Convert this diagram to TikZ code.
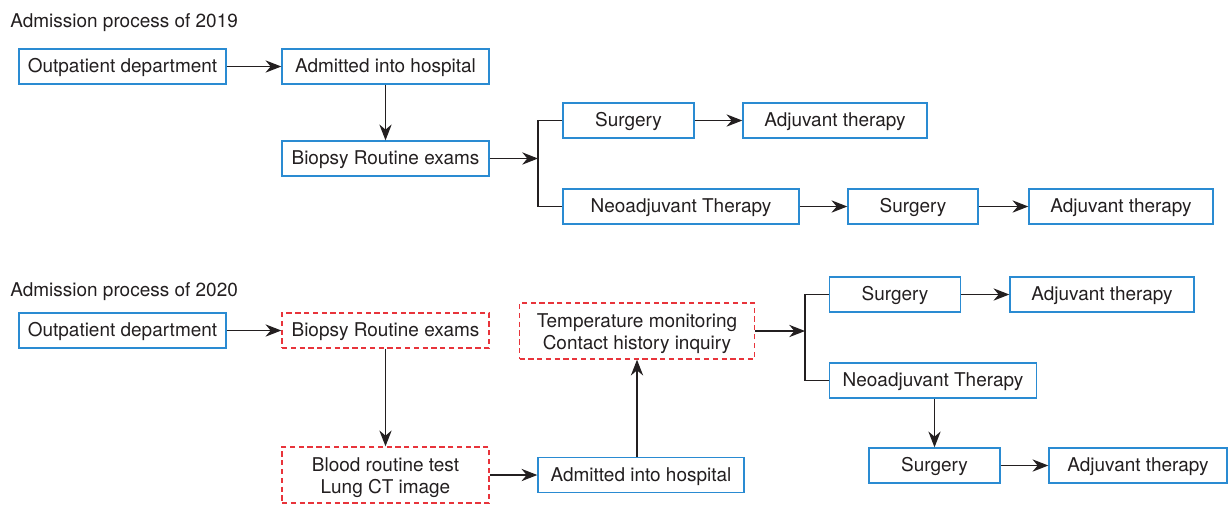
\documentclass[tikz,border=0pt]{standalone}
\usepackage{fontspec}
\setmainfont{TeX Gyre Heros}
\usetikzlibrary{arrows.meta, positioning}
\definecolor{ink}{HTML}{231F20}
\definecolor{boxblue}{HTML}{2A8BD2}
\definecolor{boxred}{HTML}{E8343B}

\begin{document}
\begin{tikzpicture}[
    x=0.02cm, y=-0.02cm,
    every node/.style={font=\fontsize{10.8pt}{12.6pt}\selectfont, text=ink},
    box/.style={draw=boxblue, line width=0.8pt, minimum height=0.7cm, inner sep=0pt,
        text height=0.9em, text depth=0.2em},
    redbox/.style={box, draw=boxred, dash pattern=on 3pt off 2pt},
    tall/.style={minimum height=1.12cm, align=center, text height=, text depth=},
    title/.style={anchor=base west, inner sep=0pt},
    flow/.style={draw=ink, line width=0.7pt, -{Stealth[length=9pt, width=7pt]}},
    link/.style={draw=ink, line width=0.7pt},
]
\useasboundingbox (0,0) rectangle (1229,505);

% ---------------------------------------------------------------- 2019
\node[title] (t19) at (10, 27) {Admission process of 2019};

\node[box, minimum width=207*0.02cm] (out19) at (122.5, 66.5) {Outpatient department};
\node[box, minimum width=207*0.02cm] (adm19) at (385.5, 66.5) {Admitted into hospital};
\node[box, minimum width=207*0.02cm] (bio19) at (385.5, 158.5) {Biopsy Routine exams};
\coordinate (j19) at (538, 158.5);

\node[box, minimum width=131*0.02cm] (sur19) at (628.5, 120.5) {Surgery};
\node[box, minimum width=184*0.02cm] (adj19) at (835, 120.5) {Adjuvant therapy};
\node[box, minimum width=236*0.02cm] (neo19) at (681, 206.5) {Neoadjuvant Therapy};
\node[box, minimum width=130*0.02cm] (surn19) at (913, 206.5) {Surgery};
\node[box, minimum width=184*0.02cm] (adjn19) at (1121, 206.5) {Adjuvant therapy};

\draw[flow] (out19) -- (adm19);
\draw[flow] (adm19) -- (bio19);
\draw[flow] (bio19) -- (j19);
\draw[link] (sur19.west) -| (j19) |- (neo19.west);
\draw[flow] (sur19) -- (adj19);
\draw[flow] (neo19) -- (surn19);
\draw[flow] (surn19) -- (adjn19);

% ---------------------------------------------------------------- 2020
\node[title] (t20) at (10, 296) {Admission process of 2020};

\node[box, minimum width=207*0.02cm] (out20) at (122.5, 330.5) {Outpatient department};
\node[redbox, minimum width=207*0.02cm] (bio20) at (385.5, 330.5) {Biopsy Routine exams};
\node[redbox, tall, minimum width=207*0.02cm] (blood20) at (385.5, 475)
    {\rule{0pt}{1.05em}Blood routine test\\Lung CT image};
\node[box, minimum width=206*0.02cm] (adm20) at (641, 475) {Admitted into hospital};
\node[redbox, tall, minimum width=235*0.02cm] (temp20) at (637, 331)
    {\rule{0pt}{1.05em}Temperature monitoring\\Contact history inquiry};
\coordinate (j20) at (805, 331);

\node[box, minimum width=131*0.02cm] (sur20) at (895, 294.5) {Surgery};
\node[box, minimum width=184*0.02cm] (adj20) at (1102, 294.5) {Adjuvant therapy};
\node[box, minimum width=207*0.02cm] (neo20) at (933, 380.5) {Neoadjuvant Therapy};
\node[box, minimum width=131*0.02cm] (surn20) at (934.5, 465.5) {Surgery};
\node[box, minimum width=178*0.02cm] (adjn20) at (1138, 465.5) {Adjuvant therapy};

\draw[flow] (out20) -- (bio20);
\draw[flow] (bio20) -- (blood20);
\draw[flow] (blood20) -- (adm20);
\draw[flow] (adm20.north -| temp20) -- (temp20);
\draw[flow] (temp20) -- (j20);
\draw[link] (sur20.west) -| (j20) |- (neo20.west);
\draw[flow] (sur20) -- (adj20);
\draw[flow] (neo20.south -| surn20) -- (surn20);
\draw[flow] (surn20) -- (adjn20);

\end{tikzpicture}
\end{document}
